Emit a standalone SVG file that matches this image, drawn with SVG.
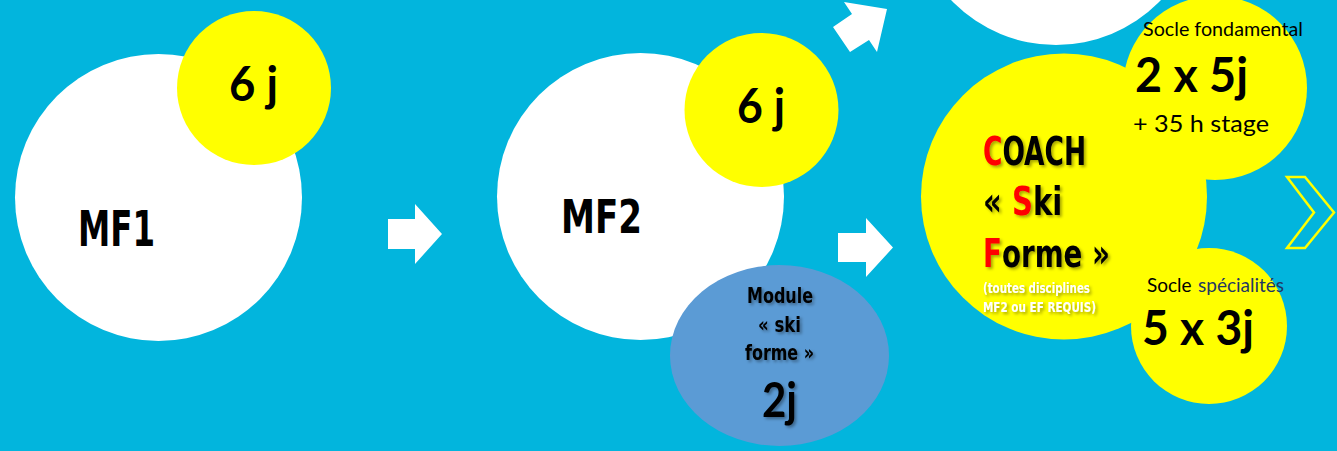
<svg xmlns="http://www.w3.org/2000/svg" width="1337" height="451" viewBox="0 0 1337 451">
<defs>
<style>
.cond{font-family:"DejaVu Sans Condensed","Liberation Sans Narrow","Liberation Sans",sans-serif;font-weight:bold;fill:#000}
.cal{font-family:Lato,"Open Sans","Liberation Sans",sans-serif;fill:#000}
.b{font-weight:bold}
.white{fill:#FFFFFF}
.yellow{fill:#FFFF00}
.red{fill:#FF0000}
.wtext{fill:#FFFFFF}
.navy{fill:#1F3864}
.arrow{fill:#FFFFFF}
</style>
<filter id="sh" x="-20%" y="-20%" width="140%" height="140%">
<feDropShadow dx="2" dy="2" stdDeviation="1.5" flood-color="#000" flood-opacity="0.35"/>
</filter>
</defs>
<rect width="1337" height="451" fill="#02B5DD"/>

<g id="mf1">
<circle class="white" cx="158.5" cy="197.5" r="143.5"/>
<text class="cond" x="78" y="246" font-size="50" textLength="77" lengthAdjust="spacingAndGlyphs">MF1</text>
</g>
<g id="mf1-days">
<circle class="yellow" cx="254" cy="88" r="77"/>
<text class="cal b" x="229" y="101" font-size="47" textLength="49" lengthAdjust="spacingAndGlyphs">6 j</text>
</g>

<g id="mf2">
<circle class="white" cx="640.5" cy="196.5" r="143.5"/>
<text class="cond" x="561" y="233" font-size="46" textLength="81" lengthAdjust="spacingAndGlyphs">MF2</text>
</g>
<g id="mf2-days">
<circle class="yellow" cx="761.5" cy="110" r="77"/>
<text class="cal b" x="737" y="123" font-size="47" textLength="48" lengthAdjust="spacingAndGlyphs">6 j</text>
</g>
<g id="module">
<ellipse cx="779.5" cy="355.5" rx="109.5" ry="90.5" fill="#5B9BD5"/>
<g filter="url(#sh)">
<text class="cond" x="780" y="303" font-size="21" text-anchor="middle" textLength="66" lengthAdjust="spacingAndGlyphs">Module</text>
<text class="cond" x="779.5" y="332" font-size="21" text-anchor="middle" textLength="43" lengthAdjust="spacingAndGlyphs">« ski</text>
<text class="cond" x="779.5" y="360" font-size="21" text-anchor="middle" textLength="69" lengthAdjust="spacingAndGlyphs">forme »</text>
<text class="cal b" x="762" y="417" font-size="47" textLength="35" lengthAdjust="spacingAndGlyphs">2j</text>
</g>
</g>

<g id="next-top">
<circle class="white" cx="1056" cy="-100" r="145"/>
</g>

<g id="coach">
<circle class="yellow" cx="1064" cy="196.5" r="143"/>
</g>
<g id="socle-fondamental">
<circle class="yellow" cx="1215" cy="88" r="92"/>
</g>
<g id="socle-specialites">
<circle class="yellow" cx="1209" cy="326" r="78"/>
</g>

<g id="coach-text" filter="url(#sh)">
<text class="cond" font-size="39" transform="translate(983,165) scale(0.754,1)"><tspan class="red">C</tspan>OACH</text>
<text class="cond" font-size="39" transform="translate(983,215) scale(0.83,1)">« <tspan class="red">S</tspan>ki</text>
<text class="cond" font-size="39" transform="translate(983,267) scale(0.79,1)"><tspan class="red">F</tspan>orme »</text>
<text class="cond wtext" x="983" y="293" font-size="13.5" textLength="107" lengthAdjust="spacingAndGlyphs">(toutes disciplines</text>
<text class="cond wtext" x="983" y="312" font-size="13.5" textLength="113" lengthAdjust="spacingAndGlyphs">MF2 ou EF REQUIS)</text>
</g>

<g id="socle-fondamental-text">
<text class="cal" x="1143" y="36" font-size="19" textLength="160" lengthAdjust="spacingAndGlyphs">Socle fondamental</text>
<text class="cal b" x="1135" y="92" font-size="47" textLength="113" lengthAdjust="spacingAndGlyphs">2 x 5j</text>
<text class="cal" x="1133" y="132" font-size="23" textLength="136" lengthAdjust="spacingAndGlyphs">+ 35 h stage</text>
</g>
<g id="socle-specialites-text">
<text class="cal" x="1147" y="292" font-size="19">Socle</text>
<text class="cal navy" x="1198" y="292" font-size="19">spécialités</text>
<text class="cal b" x="1142" y="345" font-size="47" textLength="112" lengthAdjust="spacingAndGlyphs">5 x 3j</text>
</g>

<g id="connectors">
<polygon class="arrow" points="388,219 415,219 415,204 442,234 415,264 415,249 388,249"/>
<polygon class="arrow" points="838,233 866,233 866,218 893,247.5 866,277 866,262 838,262"/>
<polygon class="arrow" points="833,27 852,14 844,2 887,9 877,52 869,40 850,52"/>
<polygon points="1287,177 1305,177 1334,212.5 1305,248 1287,248 1314,212.5" fill="none" stroke="#FFFF00" stroke-width="2.5" stroke-linejoin="miter"/>
</g>
</svg>
